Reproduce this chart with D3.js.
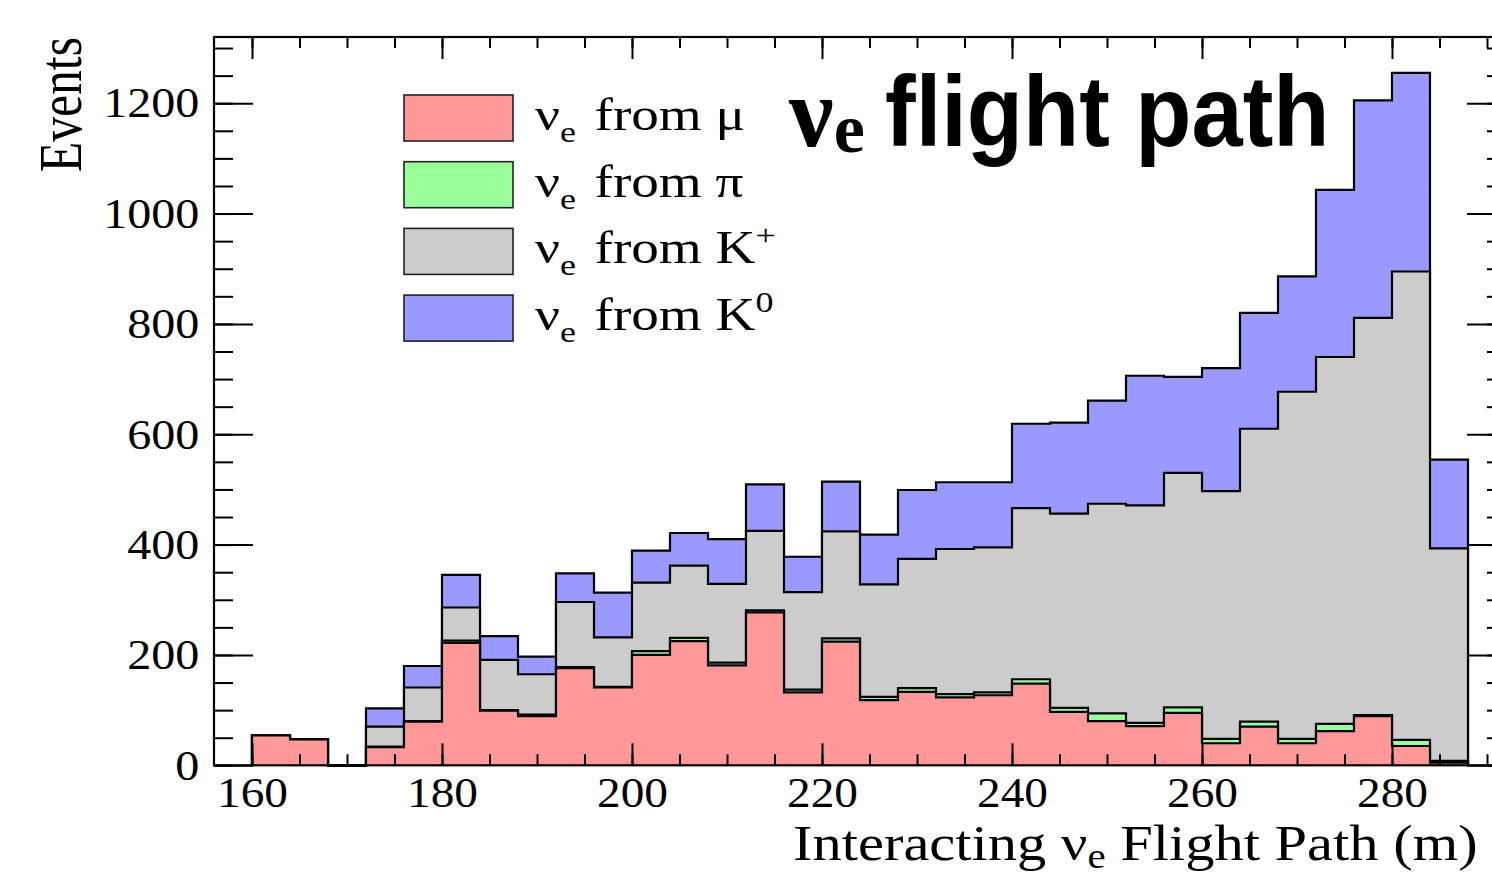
<!DOCTYPE html>
<html>
<head>
<meta charset="utf-8">
<script src="https://cdn.jsdelivr.net/npm/d3@7"></script>
<style>
  html, body { margin: 0; padding: 0; background: #fff; }
  svg { display: block; }
  text { fill: #000; }
</style>
</head>
<body>
<div id="chart"></div>
<script>
// bin low edges (m), each bin is 4 m wide
const binLow = [160, 164, 168, 172, 176, 180, 184, 188, 192, 196, 200, 204, 208, 212, 216, 220,
  224, 228, 232, 236, 240, 244, 248, 252, 256, 260, 264, 268, 272, 276, 280, 284];
const BIN_WIDTH = 4;

// events per bin, one array per parent (stacked bottom to top)
const fromMu = [54, 47, 0, 33, 79, 222, 99, 89, 176, 141, 200, 225, 181, 277, 132, 224,
  118, 133, 123, 127, 148, 97, 80, 71, 95, 40, 70, 40, 62, 89, 35, 5];
const fromPi = [0, 0, 0, 1, 1, 4, 1, 3, 2, 1, 7, 6, 5, 4, 5, 6,
  6, 7, 6, 5, 8, 7, 14, 6, 10, 8, 9, 8, 13, 2, 11, 3];
const fromKplus = [0, 0, 0, 36, 61, 60, 91, 73, 118, 90, 124, 131, 143, 144, 177, 194,
  204, 234, 263, 263, 310, 352, 380, 394, 425, 449, 531, 629, 665, 720, 849, 385];
const fromK0 = [0, 0, 0, 33, 39, 59, 43, 32, 52, 81, 58, 59, 81, 84, 64, 90,
  90, 125, 121, 118, 153, 165, 187, 235, 174, 223, 210, 209, 303, 394, 360, 161];

const xMajorTicks = [160, 180, 200, 220, 240, 260, 280];
const xMinorTicks = [160, 165, 170, 175, 180, 185, 190, 195, 200, 205, 210, 215, 220, 225, 230,
  235, 240, 245, 250, 255, 260, 265, 270, 275, 280, 285, 290];
const yMajorTicks = [0, 200, 400, 600, 800, 1000, 1200];
const yMinorTicks = [0, 50, 100, 150, 200, 250, 300, 350, 400, 450, 500, 550, 600, 650, 700, 750,
  800, 850, 900, 950, 1000, 1050, 1100, 1150, 1200, 1250, 1300];

const seriesKeys = ['mu', 'pi', 'kplus', 'k0'];
const seriesColors = ['#ff9999', '#99ff99', '#cccccc', '#9999ff'];
const seriesParent = ['μ', 'π', 'K', 'K'];
const seriesSup = [null, null, '+', '0'];

const WIDTH = 1492;
const HEIGHT = 875;
const FRAME = { left: 214, top: 37, right: 1506, bottom: 765.3 };
const SERIF = "'Liberation Serif', 'Times New Roman', serif";
const SANS = "'Liberation Sans', Arial, sans-serif";

const svg = d3.select('#chart').append('svg')
  .attr('width', WIDTH)
  .attr('height', HEIGHT)
  .attr('viewBox', `0 0 ${WIDTH} ${HEIGHT}`);

const x = d3.scaleLinear().domain([156, 292]).range([FRAME.left, FRAME.right]);
const y = d3.scaleLinear().domain([0, 1320]).range([FRAME.bottom, FRAME.top]);

// stack
const table = binLow.map((b, i) => ({
  bin: b, mu: fromMu[i], pi: fromPi[i], kplus: fromKplus[i], k0: fromK0[i]
}));
const stacked = d3.stack().keys(seriesKeys)(table);

function stepPoints(layer) {
  const pts = [[binLow[0], 0]];
  layer.forEach((d) => {
    pts.push([d.data.bin, d[1]]);
    pts.push([d.data.bin + BIN_WIDTH, d[1]]);
  });
  pts.push([binLow[binLow.length - 1] + BIN_WIDTH, 0]);
  return pts;
}
const area = d3.area().x((d) => x(d[0])).y0(y(0)).y1((d) => y(d[1]));
const line = d3.line().x((d) => x(d[0])).y((d) => y(d[1]));

// THStack style: draw the cumulative sums from the top one down
stacked.slice().reverse().forEach((layer) => {
  const pts = stepPoints(layer);
  const c = seriesColors[seriesKeys.indexOf(layer.key)];
  svg.append('path').attr('d', area(pts)).attr('fill', c);
  svg.append('path').attr('d', line(pts))
    .attr('fill', 'none')
    .attr('stroke', '#000')
    .attr('stroke-width', 2.2);
});

// axes, ticks point inwards
function styleAxis(g) {
  g.select('.domain').remove();
  g.selectAll('line').attr('stroke', '#000').attr('stroke-width', 2);
}
const TICK_X = 22, TICK_X_MINOR = 11, TICK_Y = 39, TICK_Y_MINOR = 19;

svg.append('g').attr('transform', `translate(0,${FRAME.bottom})`)
  .call(d3.axisBottom(x).tickValues(xMinorTicks).tickSizeInner(-TICK_X_MINOR).tickSizeOuter(0).tickFormat(''))
  .call(styleAxis);
const xAxis = svg.append('g').attr('transform', `translate(0,${FRAME.bottom})`)
  .call(d3.axisBottom(x).tickValues(xMajorTicks).tickSizeInner(-TICK_X).tickSizeOuter(0).tickPadding(11).tickFormat(d3.format('d')))
  .call(styleAxis);
xAxis.selectAll('text')
  .style('font-family', SERIF)
  .style('font-size', '43px')
  .attr('fill', '#000')
  .attr('transform', 'scale(1.1,1)');

svg.append('g').attr('transform', `translate(0,${FRAME.top})`)
  .call(d3.axisTop(x).tickValues(xMinorTicks).tickSizeInner(-TICK_X_MINOR).tickSizeOuter(0).tickFormat(''))
  .call(styleAxis);
svg.append('g').attr('transform', `translate(0,${FRAME.top})`)
  .call(d3.axisTop(x).tickValues(xMajorTicks).tickSizeInner(-TICK_X).tickSizeOuter(0).tickFormat(''))
  .call(styleAxis);

svg.append('g').attr('transform', `translate(${FRAME.left},0)`)
  .call(d3.axisLeft(y).tickValues(yMinorTicks).tickSizeInner(-TICK_Y_MINOR).tickSizeOuter(0).tickFormat(''))
  .call(styleAxis);
const yAxis = svg.append('g').attr('transform', `translate(${FRAME.left},0)`)
  .call(d3.axisLeft(y).tickValues(yMajorTicks).tickSizeInner(-TICK_Y).tickSizeOuter(0).tickPadding(13).tickFormat(d3.format('d')))
  .call(styleAxis);
yAxis.selectAll('text')
  .style('font-family', SERIF)
  .style('font-size', '43px')
  .attr('fill', '#000')
  .attr('transform', 'scale(1.12,1)');

svg.append('g').attr('transform', `translate(${FRAME.right},0)`)
  .call(d3.axisRight(y).tickValues(yMinorTicks).tickSizeInner(-TICK_Y_MINOR).tickSizeOuter(0).tickFormat(''))
  .call(styleAxis);
svg.append('g').attr('transform', `translate(${FRAME.right},0)`)
  .call(d3.axisRight(y).tickValues(yMajorTicks).tickSizeInner(-TICK_Y).tickSizeOuter(0).tickFormat(''))
  .call(styleAxis);

// frame
svg.append('rect')
  .attr('x', FRAME.left).attr('y', FRAME.top)
  .attr('width', FRAME.right - FRAME.left)
  .attr('height', FRAME.bottom - FRAME.top)
  .attr('fill', 'none')
  .attr('stroke', '#000')
  .attr('stroke-width', 2.2);

// axis titles
const xTitle = svg.append('text')
  .attr('transform', 'translate(793,860) scale(1.17,1)')
  .style('font-family', SERIF)
  .style('font-size', '50px');
xTitle.append('tspan').text('Interacting ν');
xTitle.append('tspan').style('font-size', '35px').attr('dy', 8).text('e');
xTitle.append('tspan').attr('dy', -8).text(' Flight Path (m)');

svg.append('text')
  .attr('transform', 'translate(81,37) rotate(-90) scale(0.92,1.15)')
  .attr('text-anchor', 'end')
  .style('font-family', SERIF)
  .style('font-size', '54px')
  .text('Events');

// legend
const legend = svg.append('g');
const LEG_X = 404, LEG_Y = 95, LEG_STEP = 66.7;
seriesKeys.forEach((k, i) => {
  const row = legend.append('g').attr('transform', `translate(${LEG_X},${LEG_Y + i * LEG_STEP})`);
  row.append('rect')
    .attr('width', 109).attr('height', 46)
    .attr('fill', seriesColors[i])
    .attr('stroke', '#222')
    .attr('stroke-width', 1.6);
  const t = row.append('text')
    .attr('transform', 'translate(131,35) scale(1.2,1)')
    .style('font-family', SERIF)
    .style('font-size', '46px');
  t.append('tspan').text('ν');
  t.append('tspan').style('font-size', '30px').attr('dy', 12).text('e');
  t.append('tspan').attr('dy', -12).attr('dx', 4).text(' from  ' + seriesParent[i]);
  if (seriesSup[i]) {
    t.append('tspan').style('font-size', '30px').attr('dy', -18).text(seriesSup[i]);
  }
});

// big label
const title = svg.append('text')
  .attr('transform', 'translate(789,146)')
  .style('font-family', SERIF)
  .style('font-size', '100px')
  .style('font-weight', 'bold');
title.append('tspan').text('ν');
title.append('tspan').style('font-size', '70px').attr('dy', 6).text('e');

svg.append('text')
  .attr('transform', 'translate(885,146) scale(0.92,1)')
  .style('font-family', SANS)
  .style('font-weight', 'bold')
  .style('font-size', '100px')
  .text('flight path');
</script>
</body>
</html>
